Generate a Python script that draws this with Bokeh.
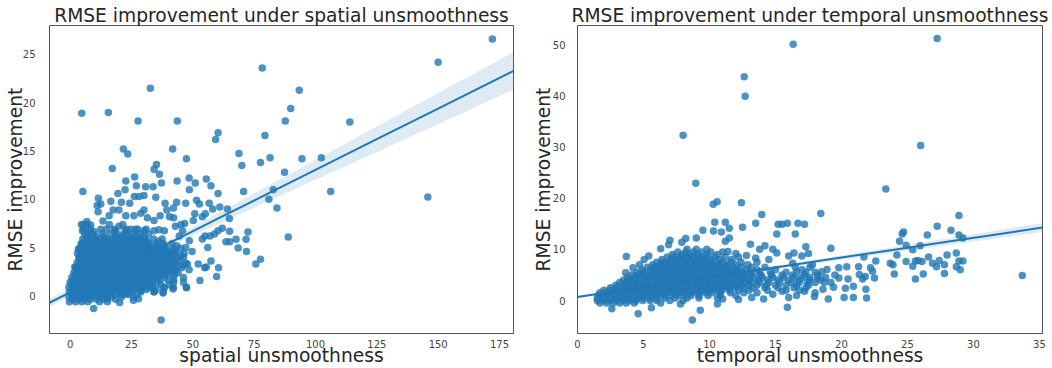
from bokeh.plotting import figure
from bokeh.layouts import row
from bokeh.models import ColumnDataSource, FixedTicker, Range1d
from bokeh.embed import file_html
from bokeh.resources import INLINE

BLUE = "#1f77b4"
TEXT = "#262626"
FONT = "DejaVu Sans"

# ---------------- spatial panel data ----------------
spatial_x = [172.1, 150.0, 78.3, 32.7, 93.4, 4.75, 15.6, 27.7, 43.7, 89.9, 87.7, 114.0, 60.3, 59.3, 79.4,
             41.8, 21.7, 23.5, 47.4, 68.8, 70.0, 77.6, 81.5, 94.5, 102.4, 87.4, 17.2, 35.2, 34.2, 36.4,
             82.8, 106.2, 70.7, 5.2, 145.8, 81.0, 84.3, 88.9, 72.5, 71.7, 71.9, 68.5, 67.6, 64.9, 64.1,
             65.0, 63.5, 65.0, 77.6, 75.7, 60.5, 59.7, 52.9, 37.1, 9.6, 20.2, 62.0, 60.3, 57.4, 54.8,
             55.5, 52.2, 56.1, 53.9, 55.0, 57.0, 58.8, 60.3, 61.0, 48.5, 51.0, 55.5, 57.4, 56.7, 58.1,
             55.1, 51.5, 52.7, 48.6, 47.1, 43.6, 43.4, 38.7, 42.1, 39.4, 34.9, 33.8, 37.2, 30.8, 30.1,
             27.0, 26.3, 22.7, 22.4, 19.5, 20.9, 24.3, 26.2, 28.1, 30.1, 11.5, 12.5, 16.6, 11.4, 11.0,
             15.9, 17.5, 19.9, 22.7, 26.0, 28.8, 31.5, 34.2, 36.7, 40.5, 42.2, 46.7, 50.2, 53.9, 50.8,
             5.4, 6.8, 5.0, 8.4, 7.7, 9.8, 4.75, 3.4, 1.9, 3.9, 13.4, 14.9, 18.2, 19.9, 22.4,
             24.7, 26.7, 30.1, 34.2, 36.2, 38.4, 42.9, 45.1, 45.8, 44.5, 48.6, 47.1, 49.7, 46.2, 47.8,
             48.5, 46.2, 47.4, 42.0, 38.3, 37.9, 34.2, 28.8, 27.9, 25.8, 23.2, 15.2, 33.5, 42.2]
spatial_y = [26.6, 24.2, 23.6, 21.5, 21.3, 18.9, 19.0, 18.1, 18.1, 19.4, 18.1, 18.0, 16.9, 16.2, 16.6,
             15.2, 15.2, 14.7, 14.2, 14.75, 13.5, 13.8, 14.3, 14.2, 14.3, 12.8, 13.2, 13.6, 13.1, 12.6,
             11.0, 10.8, 10.8, 10.8, 10.25, 10.0, 9.1, 6.1, 6.6, 5.85, 4.6, 4.95, 5.85, 8.0, 9.0,
             6.7, 5.6, 5.6, 3.8, 3.3, 2.9, 2.0, 1.6, -2.5, -1.3, -0.7, 7.0, 6.75, 3.6, 2.9,
             3.0, 3.3, 5.0, 5.9, 6.2, 6.2, 6.4, 10.6, 9.2, 12.2, 11.7, 12.1, 11.4, 9.6, 9.0,
             8.5, 9.9, 9.5, 11.0, 9.6, 11.9, 9.7, 9.6, 9.1, 8.9, 10.2, 11.3, 11.7, 11.3, 10.4,
             11.4, 12.3, 11.9, 11.0, 10.6, 9.7, 9.6, 10.3, 10.3, 8.9, 10.1, 9.5, 9.8, 8.7, 9.35,
             8.3, 8.9, 8.9, 8.3, 8.3, 8.55, 8.1, 7.8, 8.3, 8.2, 8.1, 7.5, 7.8, 8.2, 8.5,
             7.4, 7.7, 6.75, 7.35, 6.6, 6.65, 5.3, 4.85, 3.0, 4.0, 7.75, 6.9, 6.75, 7.2, 6.75,
             6.9, 6.9, 6.75, 6.75, 6.85, 6.75, 7.2, 7.4, 6.75, 6.2, 5.7, 5.0, 4.6, 4.0, 3.3,
             2.7, 1.9, 0.85, 0.7, 0.8, 0.3, 0.45, 0.5, -0.3, -0.45, 0.25, -0.3, 0.85, 1.7]

# dense core of the spatial cloud: (y level, x values read along that level)
spatial_cloud_rows = [
    (-0.6, [-0.3, 2.2, 4.7, 7.2, 12.0, 15.2]),
    (-0.35, [0.9, 3.4, 5.9, 8.4, 10.9, 13.4, 18.5]),
    (-0.1, [-0.5, 1.9, 4.4, 6.9, 9.4, 11.9, 14.4, 17.0, 21.0, 25.8]),
    (0.15, [0.9, 3.4, 5.9, 8.4, 10.9, 13.4, 15.9, 18.4, 20.9, 23.5, 27.0]),
    (0.4, [-0.3, 2.2, 4.7, 7.2, 9.7, 12.2, 14.7, 17.2, 19.7, 22.2, 24.7, 28.8, 34.2, 37.9]),
    (0.65, [0.9, 3.4, 5.9, 8.4, 10.9, 13.4, 15.9, 18.4, 20.9, 23.4, 25.9, 28.4, 31.0, 35.0]),
    (0.9, [-0.5, 1.9, 4.4, 6.9, 9.4, 11.9, 14.4, 16.9, 19.4, 21.9, 24.4, 26.9, 29.4, 32.0, 38.3, 42.0, 47.4]),
    (1.15, [0.6, 3.1, 5.6, 8.1, 10.6, 13.1, 15.6, 18.1, 20.6, 23.1, 25.6, 28.1, 30.6, 33.5, 37.0, 40.5]),
    (1.4, [0.0, 2.5, 5.0, 7.5, 10.0, 12.5, 15.0, 17.5, 20.0, 22.5, 25.0, 27.5, 30.0, 32.5, 35.5, 42.2, 46.2]),
    (1.65, [1.2, 3.7, 6.2, 8.7, 11.2, 13.7, 16.2, 18.7, 21.2, 23.7, 26.2, 28.7, 31.2, 33.7, 36.5, 40.0]),
    (1.9, [0.7, 3.2, 5.7, 8.2, 10.7, 13.2, 15.7, 18.2, 20.7, 23.2, 25.7, 28.2, 30.7, 33.2, 35.7, 38.5]),
    (2.15, [2.0, 4.5, 7.0, 9.5, 12.0, 14.5, 17.0, 19.5, 22.0, 24.5, 27.0, 29.5, 32.0, 34.5, 37.0, 39.5, 42.5]),
    (2.4, [1.5, 4.0, 6.5, 9.0, 11.5, 14.0, 16.5, 19.0, 21.5, 24.0, 26.5, 29.0, 31.5, 34.0, 36.5, 39.0, 41.5, 44.0]),
    (2.65, [2.8, 5.3, 7.8, 10.3, 12.8, 15.3, 17.8, 20.3, 22.8, 25.3, 27.8, 30.3, 32.8, 35.3, 37.8, 40.3, 43.0]),
    (2.9, [2.2, 4.7, 7.2, 9.7, 12.2, 14.7, 17.2, 19.7, 22.2, 24.7, 27.2, 29.7, 32.2, 34.7, 37.2, 39.7, 42.2, 45.5]),
    (3.15, [3.5, 6.0, 8.5, 11.0, 13.5, 16.0, 18.5, 21.0, 23.5, 26.0, 28.5, 31.0, 33.5, 36.0, 38.5, 41.0, 43.5, 46.0]),
    (3.4, [2.8, 5.3, 7.8, 10.3, 12.8, 15.3, 17.8, 20.3, 22.8, 25.3, 27.8, 30.3, 32.8, 35.3, 37.8, 40.3, 42.8, 47.0]),
    (3.65, [4.1, 6.6, 9.1, 11.6, 14.1, 16.6, 19.1, 21.6, 24.1, 26.6, 29.1, 31.6, 34.1, 36.6, 39.1, 41.6, 44.5]),
    (3.9, [3.5, 6.0, 8.5, 11.0, 13.5, 16.0, 18.5, 21.0, 23.5, 26.0, 28.5, 31.0, 33.5, 36.0, 38.5, 41.0, 43.5]),
    (4.15, [4.3, 6.8, 9.3, 11.8, 14.3, 16.8, 19.3, 21.8, 24.3, 26.8, 29.3, 31.8, 34.3, 36.8, 39.3, 41.8, 45.0]),
    (4.4, [3.0, 5.5, 8.0, 10.5, 13.0, 15.5, 18.0, 20.5, 23.0, 25.5, 28.0, 30.5, 33.0, 35.5, 38.0, 40.5, 43.0, 46.5]),
    (4.65, [4.5, 7.0, 9.5, 12.0, 14.5, 17.0, 19.5, 22.0, 24.5, 27.0, 29.5, 32.0, 34.5, 37.0, 39.7, 42.5]),
    (4.9, [3.8, 6.3, 8.8, 11.3, 13.8, 16.3, 18.8, 21.3, 23.8, 26.3, 28.8, 31.3, 33.8, 36.3, 39.0, 42.0, 45.0]),
    (5.15, [5.0, 7.5, 10.0, 12.5, 15.0, 17.5, 20.0, 22.5, 25.0, 27.5, 30.0, 32.5, 35.5, 38.5, 43.5]),
    (5.4, [4.5, 7.0, 9.5, 12.0, 14.5, 17.0, 19.5, 22.0, 24.5, 27.0, 29.5, 32.0, 35.0, 38.0, 41.5]),
    (5.65, [5.8, 8.3, 10.8, 13.3, 15.8, 18.3, 20.8, 23.3, 25.8, 28.5, 31.5, 36.0]),
    (5.9, [5.2, 7.7, 10.2, 12.7, 15.2, 17.7, 20.2, 22.7, 25.2, 27.7, 30.5, 34.0, 37.5]),
    (6.15, [7.0, 10.5, 14.0, 18.5, 21.0, 24.0, 27.0, 30.0]),
    (6.4, [6.0, 9.0, 13.0, 16.5, 19.5, 22.5, 25.5, 28.5, 32.0]),
    (6.9, [5.5, 8.2, 12.5, 18.0, 23.0, 27.5, 31.0]),
    (7.4, [4.6, 6.8, 16.0, 21.5]),
]

# regression line and confidence band
spatial_intercept = 0.35
spatial_slope = 0.127
spatial_band_x = [-8.4, 0, 10, 20, 30, 45, 60, 80, 100, 126.6, 150, 180.7]
spatial_band_hw = [0.43, 0.35, 0.28, 0.25, 0.28, 0.40, 0.56, 0.79, 1.03, 1.35, 1.62, 1.95]

# ---------------- temporal panel data ----------------
temporal_x = [27.25, 16.34, 12.63, 12.70, 8.0, 26.0, 8.96, 23.36, 10.28, 10.58, 12.42, 13.96, 18.43, 28.9,
              27.25, 28.3, 28.9, 29.2, 24.7, 24.6, 24.4, 26.5, 25.96, 25.4, 24.9, 24.2, 23.7, 23.9,
              24.0, 24.9, 25.4, 25.6, 25.8, 26.1, 26.2, 25.6, 26.6, 26.9, 27.4, 27.8, 27.8, 28.0,
              28.7, 28.9, 29.2, 28.7, 29.0, 33.7, 27.2, 22.6, 21.7, 22.2, 22.35, 22.5, 21.3, 21.35,
              21.6, 21.8, 21.85, 21.9, 20.9, 20.2, 19.0, 20.9, 20.3, 19.8, 19.2, 20.4, 19.8, 19.4,
              20.5, 18.9, 17.95, 14.1, 16.0, 15.9, 9.3, 8.7, 7.8, 5.6, 4.6, 2.6, 10.6, 15.1,
              15.1, 15.2, 15.5, 15.9, 16.5, 16.7, 17.2, 17.3, 13.5, 12.5, 11.2, 10.4, 11.5, 10.9,
              10.3, 9.5, 9.0, 8.2, 7.9, 7.0, 11.2, 11.5, 13.1, 13.8, 14.2, 14.8, 16.0, 16.4,
              16.3, 17.0, 17.5, 17.8, 3.7, 3.65, 4.2, 4.7, 5.05, 5.4, 6.3, 6.9,
              18.0, 18.6, 17.2, 19.5, 18.5, 19.2, 16.8, 12.0, 12.8, 13.5, 11.4, 14.5,
              14.8, 15.5, 16.6, 13.2, 12.2, 11.0]
temporal_y = [51.2, 50.1, 43.75, 39.9, 32.3, 30.3, 22.9, 21.8, 18.8, 19.3, 19.1, 16.8, 17.0, 16.6,
              14.5, 13.75, 12.8, 12.2, 13.4, 13.0, 11.6, 12.8, 10.7, 9.9, 10.8, 8.9, 7.3, 7.0,
              5.2, 7.6, 6.7, 7.7, 7.8, 7.6, 5.2, 4.2, 8.5, 7.3, 7.8, 7.0, 5.3, 8.9,
              9.3, 7.7, 7.7, 6.6, 6.0, 4.9, 6.6, 7.7, 8.5, 6.4, 5.7, 4.4, 6.6, 5.1,
              4.2, 4.7, 2.2, 0.5, 0.6, 0.6, 0.3, 2.8, 2.4, 6.4, 10.2, 6.6, 4.4, 2.6,
              4.2, 6.05, 0.8, 0.3, 0.6, -1.3, -1.9, -3.8, -0.7, -1.4, -2.6, -1.6, -0.7, 9.3,
              13.0, 14.9, 14.9, 15.1, 13.0, 15.1, 14.9, 10.5, 15.1, 14.3, 15.3, 15.3, 14.1, 13.4,
              13.6, 13.75, 12.2, 12.1, 11.4, 11.8, 11.6, 12.2, 11.0, 10.0, 10.7, 10.0, 8.7, 9.3,
              7.3, 8.7, 9.2, 7.0, 8.6, 5.4, 6.4, 7.0, 8.0, 8.7, 10.1, 10.9,
              1.5, 2.2, 1.8, 5.0, 5.6, 3.5, 2.0, 9.2, 8.8, 8.3, 9.6, 8.0,
              1.2, 1.8, 1.0, 0.6, 0.2, 0.3]

# dense core of the temporal cloud: (y level, x values read along that level)
temporal_cloud_rows = [
    (-0.5, [1.7, 2.2, 2.7, 3.2, 3.7, 4.3, 6.3]),
    (0.0, [1.5, 1.95, 2.45, 2.95, 3.45, 3.95, 4.45, 4.95, 5.5, 6.0, 7.0, 8.0]),
    (0.5, [1.5, 2.0, 2.5, 3.0, 3.5, 4.0, 4.5, 5.0, 5.5, 6.0, 6.6, 7.4, 8.3, 9.2, 10.6]),
    (1.0, [1.6, 2.1, 2.6, 3.1, 3.6, 4.1, 4.6, 5.1, 5.6, 6.1, 6.6, 7.1, 7.6, 8.1, 8.6, 9.2, 9.9, 10.8, 12.0]),
    (1.5, [1.7, 2.2, 2.7, 3.2, 3.7, 4.2, 4.7, 5.2, 5.7, 6.2, 6.7, 7.2, 7.7, 8.2, 8.7, 9.2, 9.7, 10.2,
           10.8, 11.6, 12.6, 13.6]),
    (2.0, [2.0, 2.45, 2.95, 3.45, 3.95, 4.45, 4.95, 5.45, 5.95, 6.45, 6.95, 7.45, 7.95, 8.45, 8.95, 9.45,
           9.95, 10.45, 10.95, 11.5, 12.2, 13.0, 14.4, 15.8]),
    (2.5, [2.5, 3.0, 3.5, 4.0, 4.5, 5.0, 5.5, 6.0, 6.5, 7.0, 7.5, 8.0, 8.5, 9.0, 9.5, 10.0, 10.5, 11.0,
           11.5, 12.0, 12.6, 13.3, 14.2, 15.2, 16.4, 17.3]),
    (3.0, [2.9, 3.45, 3.95, 4.45, 4.95, 5.45, 5.95, 6.45, 6.95, 7.45, 7.95, 8.45, 8.95, 9.45, 9.95, 10.45,
           10.95, 11.45, 11.95, 12.45, 13.0, 13.6, 14.3, 15.0, 15.8, 16.6, 17.5]),
    (3.5, [3.2, 3.7, 4.2, 4.7, 5.2, 5.7, 6.2, 6.7, 7.2, 7.7, 8.2, 8.7, 9.2, 9.7, 10.2, 10.7, 11.2, 11.7,
           12.2, 12.7, 13.2, 13.8, 14.5, 15.3, 16.2, 16.8, 17.4, 18.0, 18.7]),
    (4.0, [3.5, 3.95, 4.45, 4.95, 5.45, 5.95, 6.45, 6.95, 7.45, 7.95, 8.45, 8.95, 9.45, 9.95, 10.45, 10.95,
           11.45, 11.95, 12.45, 13.0, 13.7, 14.4, 15.2, 16.0, 16.8, 17.6, 18.4]),
    (4.5, [3.8, 4.3, 4.8, 5.3, 5.8, 6.3, 6.8, 7.3, 7.8, 8.3, 8.8, 9.3, 9.8, 10.3, 10.8, 11.3, 11.8, 12.3,
           12.8, 13.4, 14.0, 14.8, 15.6, 16.4, 17.0, 17.6, 18.2, 18.8]),
    (5.0, [4.1, 4.55, 5.05, 5.55, 6.05, 6.55, 7.05, 7.55, 8.05, 8.55, 9.05, 9.55, 10.05, 10.55, 11.05,
           11.55, 12.05, 12.6, 13.2, 13.9, 14.7, 15.5, 16.3, 17.2, 18.2]),
    (5.5, [4.5, 5.0, 5.5, 6.0, 6.5, 7.0, 7.5, 8.0, 8.5, 9.0, 9.5, 10.0, 10.5, 11.0, 11.5, 12.0, 12.5,
           13.1, 13.8, 14.6, 15.8, 16.6, 17.3, 18.0]),
    (6.0, [4.9, 5.55, 6.05, 6.55, 7.05, 7.55, 8.05, 8.55, 9.05, 9.55, 10.05, 10.55, 11.05, 11.55, 12.1,
           12.8, 13.6, 15.0, 17.0]),
    (6.5, [5.3, 5.8, 6.3, 6.8, 7.3, 7.8, 8.3, 8.8, 9.3, 9.8, 10.3, 10.8, 11.3, 11.8, 12.4, 13.2, 14.2,
           16.5, 17.6]),
    (7.0, [5.7, 6.25, 6.75, 7.25, 7.75, 8.25, 8.75, 9.25, 9.75, 10.25, 10.75, 11.3, 12.0, 12.9]),
    (7.5, [6.0, 6.5, 7.0, 7.5, 8.0, 8.5, 9.0, 9.5, 10.0, 10.5, 11.0, 11.6, 12.4, 13.6]),
    (8.0, [6.4, 7.05, 7.55, 8.05, 8.55, 9.05, 9.55, 10.1, 10.8, 11.7]),
    (8.5, [6.8, 7.3, 7.8, 8.3, 8.8, 9.3, 9.8, 10.4, 11.2, 12.2]),
    (9.0, [7.2, 7.9, 8.5, 9.1, 9.8, 10.6]),
    (9.5, [7.6, 8.2, 8.8, 9.4, 10.1, 11.0]),
    (10.0, [8.3, 9.0, 9.8]),
]

temporal_intercept = 0.7
temporal_slope = 0.385
temporal_band_x = [0, 4, 7.5, 12, 16, 20, 24, 28, 32, 35.23]
temporal_band_hw = [0.27, 0.2, 0.15, 0.2, 0.3, 0.42, 0.54, 0.66, 0.78, 0.86]


def flatten(xs, ys, rows):
    fx, fy = list(xs), list(ys)
    for yv, row_x in rows:
        for xv in row_x:
            fx.append(xv)
            fy.append(yv)
    return fx, fy


def panel(px, py, rows, xr, yr, xticks, yticks, b0, b1, band_x, band_hw,
          title, xlabel, ylabel, width, bl, br, ylab_standoff, ytick_standoff):
    p = figure(width=width, height=368, x_range=Range1d(*xr), y_range=Range1d(*yr),
               output_backend="svg", toolbar_location=None,
               min_border_left=bl, min_border_right=br, min_border_top=25, min_border_bottom=35)
    ax, ay = flatten(px, py, rows)
    src = ColumnDataSource(dict(x=ax, y=ay))
    p.scatter("x", "y", source=src, size=7.5, fill_color=BLUE, fill_alpha=0.8, line_color=None)
    fit = [b0 + b1 * x for x in band_x]
    up = [f + h for f, h in zip(fit, band_hw)]
    lo = [f - h for f, h in zip(fit, band_hw)]
    p.patch(band_x + band_x[::-1], up + lo[::-1], fill_color=BLUE, fill_alpha=0.15, line_color=None)
    p.line(band_x, fit, line_color=BLUE, line_width=2)

    p.title.text = title
    p.title.align = "center"
    p.title.text_font = FONT
    p.title.text_font_size = "18.67px"
    p.title.text_font_style = "normal"
    p.title.text_color = TEXT
    p.title.standoff = 0

    p.xaxis.ticker = FixedTicker(ticks=xticks)
    p.yaxis.ticker = FixedTicker(ticks=yticks)
    p.xaxis.axis_label = xlabel
    p.yaxis.axis_label = ylabel
    for a in (p.xaxis[0], p.yaxis[0]):
        a.axis_line_color = None
        a.major_tick_line_color = None
        a.minor_tick_line_color = None
        a.major_label_text_font = FONT
        a.major_label_text_font_size = "10px"
        a.major_label_text_color = "#444444"
        a.axis_label_text_font = FONT
        a.axis_label_text_font_size = "18.67px"
        a.axis_label_text_font_style = "normal"
        a.axis_label_text_color = TEXT
    p.xaxis.major_label_standoff = 0
    p.xaxis.axis_label_standoff = -6
    p.yaxis.major_label_standoff = ytick_standoff
    p.yaxis.axis_label_standoff = ylab_standoff
    p.xgrid.grid_line_color = None
    p.ygrid.grid_line_color = None
    p.outline_line_color = "#555555"
    p.outline_line_width = 1
    return p


p1 = panel(spatial_x, spatial_y, spatial_cloud_rows, (-8.4, 180.7), (-3.9, 28.0),
           [0, 25, 50, 75, 100, 125, 150, 175], [0, 5, 10, 15, 20, 25],
           spatial_intercept, spatial_slope, spatial_band_x, spatial_band_hw,
           "RMSE improvement under spatial unsmoothness", "spatial unsmoothness", "RMSE improvement",
           524, 49, 11, -6, 8)
p2 = panel(temporal_x, temporal_y, temporal_cloud_rows, (0, 35.23), (-6.45, 53.75),
           [0, 5, 10, 15, 20, 25, 30, 35], [0, 10, 20, 30, 40, 50],
           temporal_intercept, temporal_slope, temporal_band_x, temporal_band_hw,
           "RMSE improvement under temporal unsmoothness", "temporal unsmoothness", "RMSE improvement",
           528, 53, 10, -4, 6)

layout = row(p1, p2, spacing=0)
open("out.html", "w").write(file_html(layout, INLINE))
